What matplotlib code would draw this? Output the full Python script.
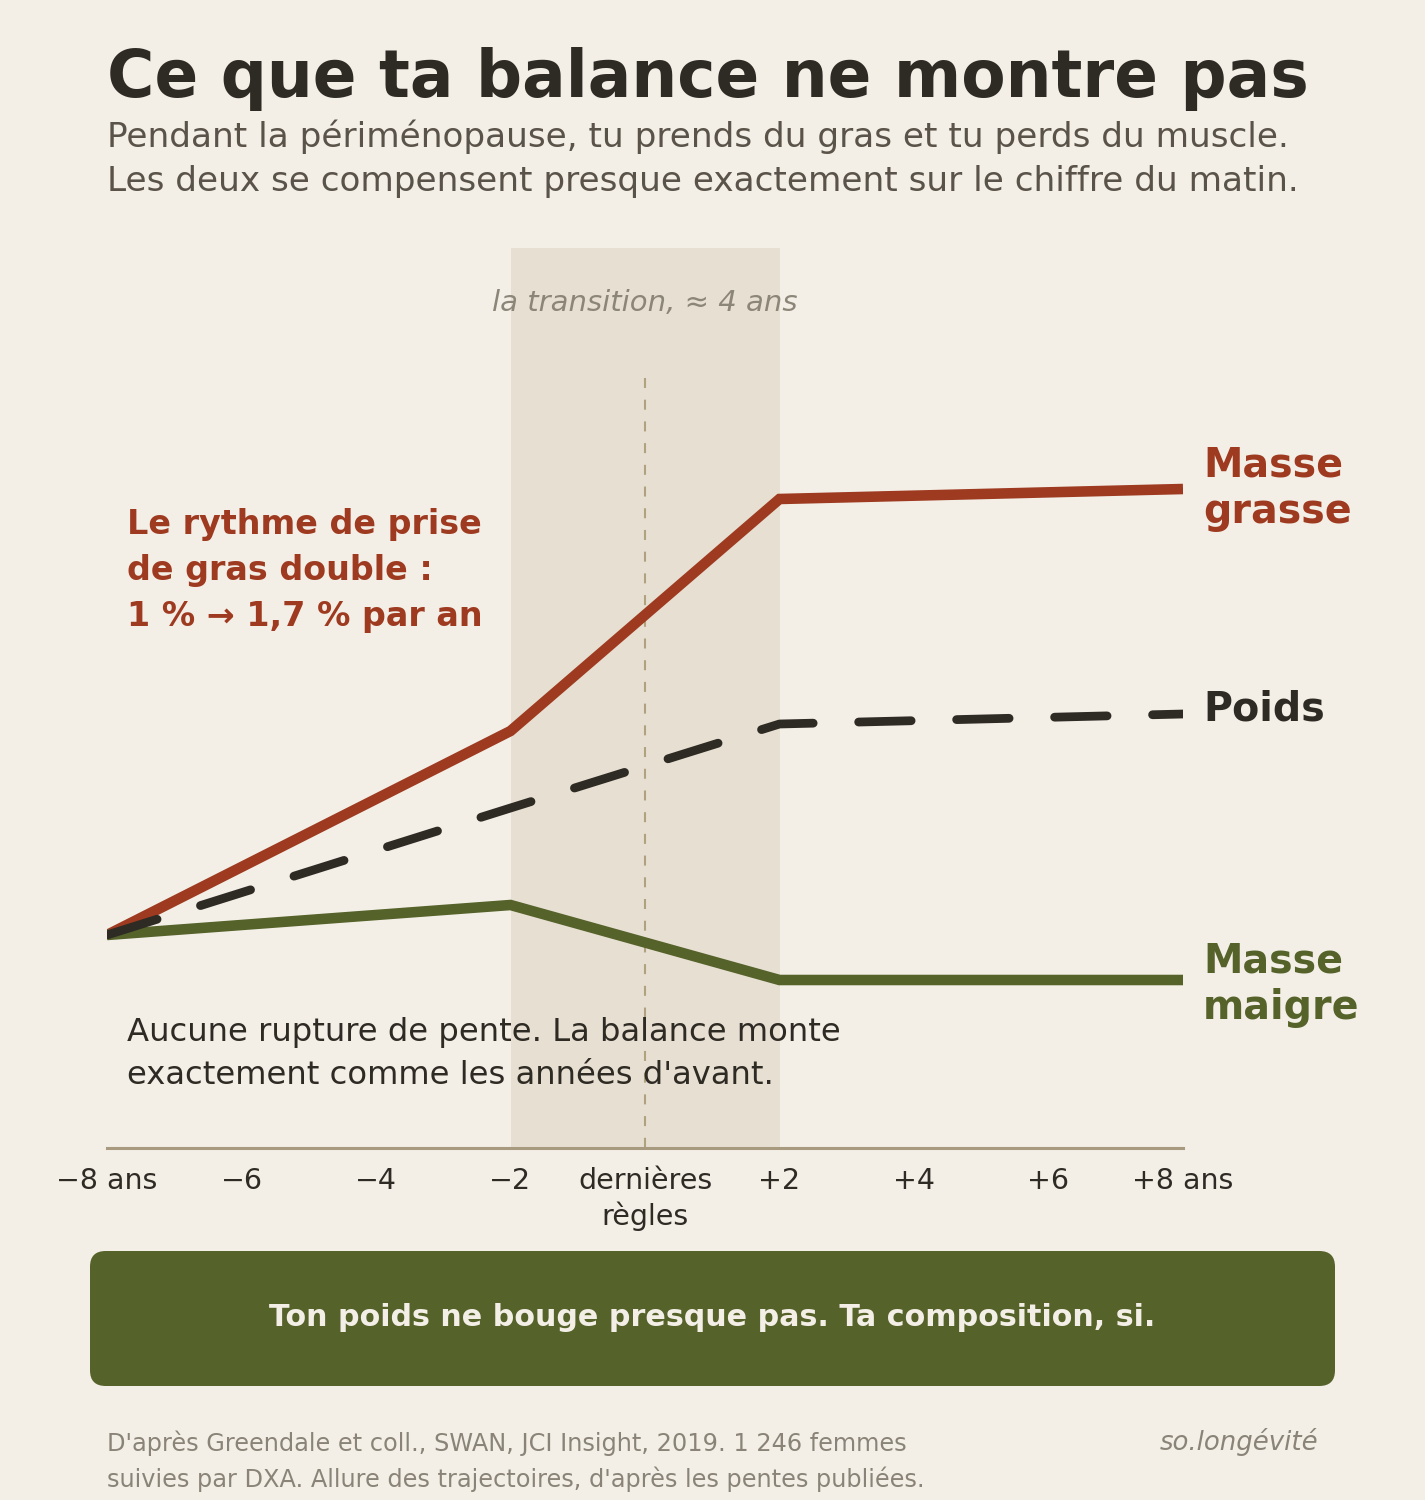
import numpy as np
import matplotlib.pyplot as plt
from matplotlib.patches import FancyBboxPatch

# years relative to last period, and index values
years = [-8, -2, 2, 8]
fat = [0, 20.4, 43.6, 44.6]
weight = [0, 12.7, 21.1, 22.1]
lean = [0, 3.0, -4.5, -4.5]

tick_pos = [-8, -6, -4, -2, 0, 2, 4, 6, 8]
tick_labels = ["\u22128 ans", "\u22126", "\u22124", "\u22122", "derni\u00e8res\nr\u00e8gles",
               "+2", "+4", "+6", "+8 ans"]

bg = "#F3EFE7"
ink = "#2E2A24"
red = "#9E3A20"
green = "#55622A"
band = "#E7DFD2"
rule = "#A89A7E"
grey = "#8A8478"

W, H = 1425, 1500
fig = plt.figure(figsize=(W / 100, H / 100), dpi=100, facecolor=bg)
plt.rcParams['font.family'] = ['DejaVu Sans']

def fx(px):
    return px / W

def fy(py):
    return 1 - py / H

ax = fig.add_axes([fx(107), fy(1148), fx(1183) - fx(107), fy(248) - fy(1148)])
ax.set_facecolor(bg)
ax.set_xlim(-8, 8)
ax.set_ylim(-21.3, 68.7)

ax.axvspan(-2, 2, color=band, zorder=0, lw=0)
ax.plot([0, 0], [55.7, -21.3], color="#B0A27E", lw=1.5, dashes=(4.8, 5.62), zorder=1)

ax.plot(years, fat, color=red, lw=7.6, solid_capstyle='butt', solid_joinstyle='miter', zorder=3)
ax.plot(years, lean, color=green, lw=7.6, solid_capstyle='butt', solid_joinstyle='miter', zorder=3)
ax.plot(years, weight, color=ink, lw=6.3, dashes=(6, 5.2), dash_capstyle='round', zorder=4)

for s in ['top', 'right', 'left']:
    ax.spines[s].set_visible(False)
ax.spines['bottom'].set_color(rule)
ax.spines['bottom'].set_linewidth(2.2)
ax.set_yticks([])
ax.set_xticks(tick_pos)
ax.set_xticklabels(tick_labels, fontsize=20.5, color=ink, linespacing=1.25)
ax.tick_params(axis='x', length=0, pad=14)

ax.text(0, 0.955, "la transition, \u2248 4 ans", transform=ax.get_xaxis_transform(),
        ha='center', va='top', fontsize=21, style='italic', color="#8C8679")

# end labels
ax.annotate("Masse\ngrasse", (8, fat[-1]), xytext=(20, 0), textcoords='offset pixels',
            ha='left', va='center', fontsize=28.5, fontweight='bold', color=red,
            linespacing=1.22, annotation_clip=False)
ax.annotate("Poids", (8, weight[-1]), xytext=(20, 4), textcoords='offset pixels',
            ha='left', va='center', fontsize=28.5, fontweight='bold', color=ink,
            annotation_clip=False)
ax.annotate("Masse\nmaigre", (8, lean[-1]), xytext=(20, -5), textcoords='offset pixels',
            ha='left', va='center', fontsize=28.5, fontweight='bold', color=green,
            linespacing=1.22, annotation_clip=False)

# titles
fig.text(fx(107), fy(47), "Ce que ta balance ne montre pas", fontsize=46.5, fontweight='bold',
         color=ink, va='top', ha='left')
fig.text(fx(107), fy(119), "Pendant la p\u00e9rim\u00e9nopause, tu prends du gras et tu perds du muscle.",
         fontsize=24.7, color="#5A534A", va='top', ha='left')
fig.text(fx(107), fy(165), "Les deux se compensent presque exactement sur le chiffre du matin.",
         fontsize=24.7, color="#5A534A", va='top', ha='left')

# annotations inside chart
for i, line in enumerate(["Le rythme de prise", "de gras double :", "1 % \u2192 1,7 % par an"]):
    fig.text(fx(127), fy(508 + 46 * i), line, fontsize=24, fontweight='bold',
             color=red, va='top', ha='left')
for i, line in enumerate(["Aucune rupture de pente. La balance monte",
                          "exactement comme les ann\u00e9es d'avant."]):
    fig.text(fx(127), fy(1017 + 43 * i), line, fontsize=23.2, color=ink, va='top', ha='left')

# banner
box = FancyBboxPatch((fx(90), fy(1386)), fx(1335) - fx(90), fy(1251) - fy(1386),
                     boxstyle="round,pad=0,rounding_size=0.011", transform=fig.transFigure,
                     facecolor=green, edgecolor='none', mutation_aspect=W / H)
fig.patches.append(box)
fig.text(fx(712), fy(1318), "Ton poids ne bouge presque pas. Ta composition, si.",
         fontsize=21.7, fontweight='bold', color=bg, ha='center', va='center')

# footer
fig.text(fx(107), fy(1430), "D'apr\u00e8s Greendale et coll., SWAN, JCI Insight, 2019. 1 246 femmes",
         fontsize=17.3, color=grey, va='top', ha='left')
fig.text(fx(107), fy(1466), "suivies par DXA. Allure des trajectoires, d'apr\u00e8s les pentes publi\u00e9es.",
         fontsize=17.3, color=grey, va='top', ha='left')
fig.text(fx(1318), fy(1428), "so.long\u00e9vit\u00e9", fontsize=18.7, style='italic',
         color=grey, va='top', ha='right')

fig.savefig("out.png", dpi=100, facecolor=bg)
